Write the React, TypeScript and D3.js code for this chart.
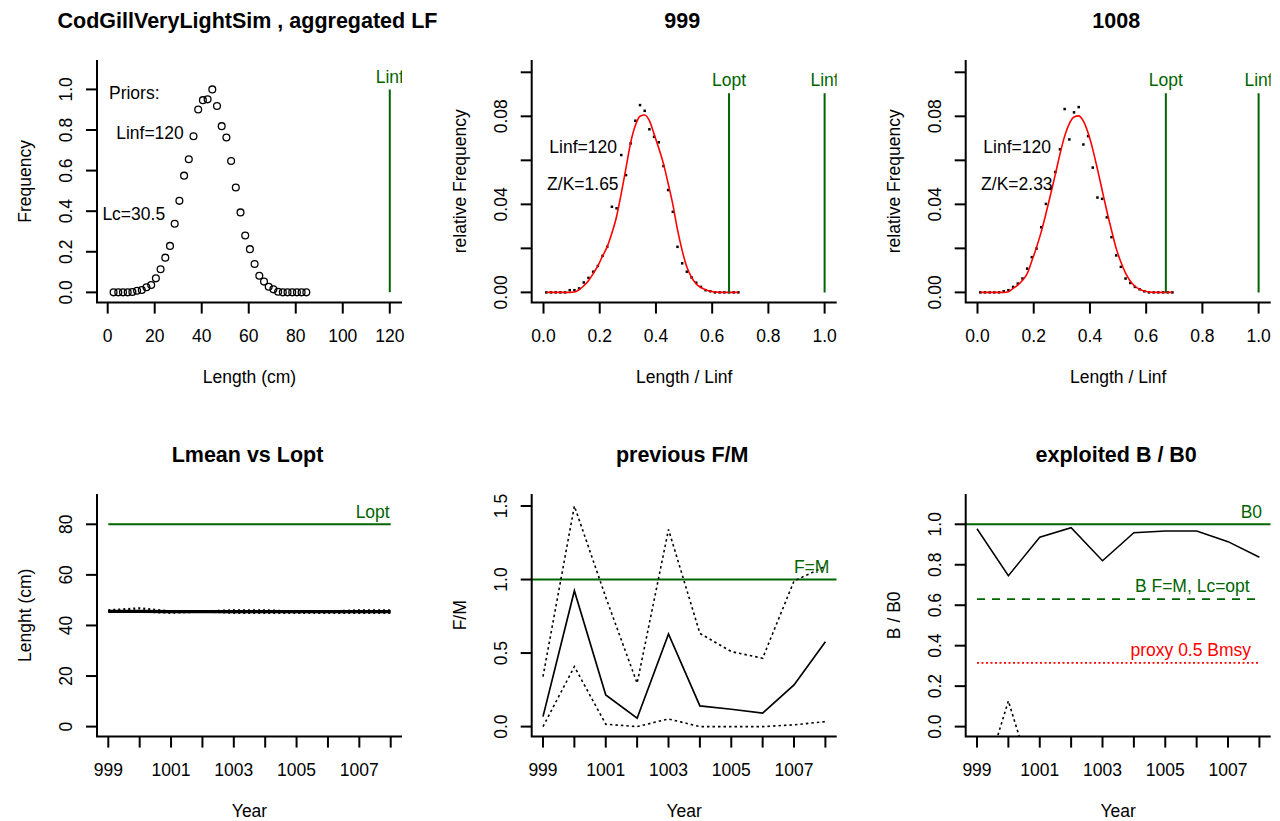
import React from "react";
import * as d3 from "d3";

// ---------------- data ----------------
const Linf = 120;
const lengthClasses = [
  2.5, 4.5, 6.5, 8.5, 10.5, 12.5, 14.5, 16.5, 18.5, 20.5, 22.5, 24.5, 26.5, 28.5,
  30.5, 32.5, 34.5, 36.5, 38.5, 40.5, 42.5, 44.5, 46.5, 48.5, 50.5, 52.5, 54.5, 56.5,
  58.5, 60.5, 62.5, 64.5, 66.5, 68.5, 70.5, 72.5, 74.5, 76.5, 78.5, 80.5, 82.5, 84.5,
];
const aggregatedFreq = [
  0, 0, 0, 0, 0.002, 0.008, 0.012, 0.025, 0.036, 0.069, 0.114, 0.171, 0.229, 0.338,
  0.451, 0.575, 0.656, 0.769, 0.901, 0.947, 0.951, 1.0, 0.918, 0.819, 0.763, 0.647, 0.517, 0.394,
  0.28, 0.213, 0.14, 0.082, 0.053, 0.028, 0.015, 0.003, 0, 0, 0, 0, 0, 0,
];
const freq999 = [
  0, 0, 0, 0, 0, 0.001, 0.001, 0.0018, 0.0045, 0.0066, 0.0094, 0.012, 0.0166, 0.0207,
  0.0389, 0.0382, 0.0624, 0.0533, 0.0677, 0.078, 0.0851, 0.0825, 0.0741, 0.0707, 0.0682, 0.0574, 0.0465, 0.0366,
  0.0207, 0.0132, 0.0094, 0.0068, 0.0044, 0.0025, 0.001, 0.0005, 0, 0, 0, 0, 0, 0,
];
const fit999 = [
  0, 0, 0, 0, 0, 0, 0.0002, 0.0012, 0.003, 0.0053, 0.0085, 0.012, 0.0165, 0.0208,
  0.027, 0.0345, 0.045, 0.0565, 0.068, 0.0758, 0.08, 0.0806, 0.078, 0.072, 0.0655, 0.0585, 0.0495, 0.04,
  0.0285, 0.019, 0.0115, 0.0068, 0.0038, 0.0022, 0.0012, 0.0005, 0.0002, 0, 0, 0, 0, 0,
];
const freq1008 = [
  0, 0, 0, 0, 0, 0.0005, 0.001, 0.0025, 0.004, 0.0063, 0.0108, 0.016, 0.0199, 0.0296,
  0.0402, 0.047, 0.0547, 0.065, 0.0833, 0.0695, 0.0818, 0.0842, 0.0672, 0.071, 0.0567, 0.0431, 0.0425, 0.0341,
  0.0251, 0.0168, 0.0116, 0.0063, 0.0043, 0.0025, 0.0014, 0.0005, 0, 0, 0, 0, 0, 0,
];
const fit1008 = [
  0, 0, 0, 0, 0, 0, 0.0003, 0.0018, 0.0033, 0.0055, 0.0085, 0.0143, 0.0205, 0.0275,
  0.0357, 0.0445, 0.0535, 0.0628, 0.071, 0.0767, 0.0797, 0.0802, 0.0778, 0.0725, 0.065, 0.056, 0.0465, 0.037,
  0.0283, 0.02, 0.0138, 0.0088, 0.0052, 0.0028, 0.0014, 0.0006, 0.0002, 0, 0, 0, 0, 0,
];
const relLopt999 = 0.66;
const relLopt1008 = 0.67;

const years = [999, 1000, 1001, 1002, 1003, 1004, 1005, 1006, 1007, 1008];
const Lopt = 80;
const lmean = [45.6, 45.6, 45.5, 45.5, 45.5, 45.5, 45.5, 45.5, 45.5, 45.5];
const lmeanUpper = [46.0, 46.8, 45.5, 45.5, 46.0, 46.0, 45.5, 45.5, 46.0, 46.0];
const lmeanLower = [45.5, 45.5, 45.0, 45.5, 45.0, 45.0, 45.0, 45.0, 45.0, 45.0];

const fmMedian = [0.068, 0.924, 0.215, 0.057, 0.63, 0.141, 0.118, 0.091, 0.283, 0.577];
const fmUpper = [0.34, 1.5, 0.88, 0.295, 1.34, 0.634, 0.51, 0.465, 0.99, 1.09];
const fmLower = [0.0, 0.408, 0.016, 0.0, 0.052, 0.0, 0.0, 0.0, 0.012, 0.034];

const bb0 = [0.978, 0.746, 0.936, 0.983, 0.82, 0.958, 0.967, 0.967, 0.914, 0.837];
const bb0Lower = [-0.38, 0.127, -0.38, -0.38, -0.38, -0.38, -0.38, -0.38, -0.38, -0.38];
const bFmLcOpt = 0.63;
const proxyHalfBmsy = 0.315;

const lenTicks = [0, 20, 40, 60, 80, 100, 120];
const freqTicks = [0, 0.2, 0.4, 0.6, 0.8, 1.0];
const relTicks = [0, 0.2, 0.4, 0.6, 0.8, 1.0];
const relFreqTicks = [0, 0.02, 0.04, 0.06, 0.08, 0.1];
const relFreqLabels = [0, 0.04, 0.08];
const yearLabels = [999, 1001, 1003, 1005, 1007];
const lenYTicks = [0, 20, 40, 60, 80];
const fmTicks = [0, 0.5, 1.0, 1.5];
const bTicks = [0, 0.2, 0.4, 0.6, 0.8, 1.0];

// ---------------- style ----------------
const FONT = "'Liberation Sans', Arial, Helvetica, sans-serif";
const FS = 17.5;
const TFS = 21.5;
const GREEN = "#006400";
const COLS = [97, 531.7, 965.7];
const ROWS = [60, 494];
const W = 305;
const H = 242.6;

type PanelProps = {
  id: string;
  x0: number;
  y0: number;
  x: d3.ScaleLinear<number, number>;
  y: d3.ScaleLinear<number, number>;
  xTicks: number[];
  xLabels: number[];
  xFmt: (v: number) => string;
  yTicks: number[];
  yLabels: number[];
  yFmt: (v: number) => string;
  title: string;
  xTitle: string;
  yTitle: string;
  children?: React.ReactNode;
};

function Panel(p: PanelProps) {
  const { id, x0, y0, x, y } = p;
  const x1 = x0 + W;
  const y1 = y0 + H;
  const cx = (x0 + x1) / 2;
  const cy = (y0 + y1) / 2;
  return (
    <g>
      <defs>
        <clipPath id={id}>
          <rect x={x0} y={y0} width={W} height={H} />
        </clipPath>
      </defs>
      <g clipPath={`url(#${id})`}>{p.children}</g>
      <path d={`M${x0},${y0}V${y1}H${x1}`} fill="none" stroke="#000" strokeWidth={2} />
      {p.xTicks.map((t) => (
        <line key={"xt" + t} x1={x(t)} x2={x(t)} y1={y1} y2={y1 + 11} stroke="#000" strokeWidth={2} />
      ))}
      {p.xLabels.map((t) => (
        <text key={"xl" + t} x={x(t)} y={y1 + 39.5} textAnchor="middle" fontSize={FS}>
          {p.xFmt(t)}
        </text>
      ))}
      {p.yTicks.map((t) => (
        <line key={"yt" + t} x1={x0 - 11} x2={x0} y1={y(t)} y2={y(t)} stroke="#000" strokeWidth={2} />
      ))}
      {p.yLabels.map((t) => (
        <text
          key={"yl" + t}
          transform={`translate(${x0 - 25},${y(t)}) rotate(-90)`}
          textAnchor="middle"
          fontSize={FS}
        >
          {p.yFmt(t)}
        </text>
      ))}
      <text x={cx - 2} y={y0 - 32} textAnchor="middle" fontSize={TFS} fontWeight="bold">
        {p.title}
      </text>
      <text x={cx} y={y1 + 80} textAnchor="middle" fontSize={FS}>
        {p.xTitle}
      </text>
      <text transform={`translate(${x0 - 66},${cy}) rotate(-90)`} textAnchor="middle" fontSize={FS}>
        {p.yTitle}
      </text>
    </g>
  );
}

function LFPanel(props: {
  id: string;
  col: number;
  title: string;
  freq: number[];
  fit: number[];
  relLopt: number;
  zk: string;
}) {
  const x0 = COLS[props.col];
  const y0 = ROWS[0];
  const x = d3.scaleLinear().domain([-0.042, 1.043]).range([x0, x0 + W]);
  const y = d3.scaleLinear().domain([-0.00464, 0.10559]).range([y0 + H, y0]);
  const rel = lengthClasses.map((L) => (L - 1.3) / Linf);
  const line = d3
    .line<number>()
    .x((_, i) => x(rel[i]))
    .y((d) => y(d))
    .curve(d3.curveMonotoneX);
  const lineTop = 0.0905;
  return (
    <Panel
      id={props.id}
      x0={x0}
      y0={y0}
      x={x}
      y={y}
      xTicks={relTicks}
      xLabels={relTicks}
      xFmt={(v) => v.toFixed(1)}
      yTicks={relFreqTicks}
      yLabels={relFreqLabels}
      yFmt={(v) => v.toFixed(2)}
      title={props.title}
      xTitle="Length / Linf"
      yTitle="relative Frequency"
    >
      {props.freq.map((d, i) => (
        <rect key={i} x={x(rel[i]) - 1.25} y={y(d) - 1.25} width={2.5} height={2.5} fill="#000" />
      ))}
      <path d={line(props.fit) || ""} fill="none" stroke="#ff0000" strokeWidth={1.6} />
      <line x1={x(props.relLopt)} x2={x(props.relLopt)} y1={y(0)} y2={y(lineTop)} stroke={GREEN} strokeWidth={2} />
      <line x1={x(1)} x2={x(1)} y1={y(0)} y2={y(lineTop)} stroke={GREEN} strokeWidth={2} />
      <text x={x(props.relLopt)} y={y(lineTop) - 7.5} textAnchor="middle" fontSize={FS} fill={GREEN}>
        Lopt
      </text>
      <text x={x(1)} y={y(lineTop) - 7.5} textAnchor="middle" fontSize={FS} fill={GREEN}>
        Linf
      </text>
      <text x={x(0.141)} y={y(0.0662)} dy="0.35em" textAnchor="middle" fontSize={FS}>
        {"Linf=" + Linf}
      </text>
      <text x={x(0.14)} y={y(0.0492)} dy="0.35em" textAnchor="middle" fontSize={FS}>
        {props.zk}
      </text>
    </Panel>
  );
}

export default function App() {
  // panel 1
  const p1x = d3.scaleLinear().domain([-4.55, 125.2]).range([COLS[0], COLS[0] + W]);
  const p1y = d3.scaleLinear().domain([-0.0504, 1.1449]).range([ROWS[0] + H, ROWS[0]]);

  // bottom row
  const yx = (c: number) => d3.scaleLinear().domain([998.64, 1008.36]).range([COLS[c], COLS[c] + W]);
  const p4x = yx(0);
  const p4y = d3.scaleLinear().domain([-3.95, 91.98]).range([ROWS[1] + H, ROWS[1]]);
  const p5x = yx(1);
  const p5y = d3.scaleLinear().domain([-0.068, 1.5816]).range([ROWS[1] + H, ROWS[1]]);
  const p6x = yx(2);
  const p6y = d3.scaleLinear().domain([-0.0494, 1.1497]).range([ROWS[1] + H, ROWS[1]]);

  const yl = (xs: d3.ScaleLinear<number, number>, ys: d3.ScaleLinear<number, number>) =>
    d3
      .line<number>()
      .x((_, i) => xs(years[i]))
      .y((d) => ys(d));

  const l4 = yl(p4x, p4y);
  const l5 = yl(p5x, p5y);
  const l6 = yl(p6x, p6y);
  const yearFmt = (v: number) => String(v);

  return (
    <div style={{ position: "absolute", left: 0, top: 0, width: 1280, height: 821, background: "#fff" }}>
      <svg width={1280} height={821} style={{ display: "block", fontFamily: FONT }} fill="#000">
        <rect width={1280} height={821} fill="#fff" />

        {/* Panel 1 */}
        <Panel
          id="c1"
          x0={COLS[0]}
          y0={ROWS[0]}
          x={p1x}
          y={p1y}
          xTicks={lenTicks}
          xLabels={lenTicks}
          xFmt={yearFmt}
          yTicks={freqTicks}
          yLabels={freqTicks}
          yFmt={(v) => v.toFixed(1)}
          title="CodGillVeryLightSim , aggregated LF"
          xTitle="Length (cm)"
          yTitle="Frequency"
        >
          {aggregatedFreq.map((d, i) => (
            <circle key={i} cx={p1x(lengthClasses[i])} cy={p1y(d)} r={3.4} fill="none" stroke="#000" strokeWidth={1.3} />
          ))}
          <line x1={p1x(Linf)} x2={p1x(Linf)} y1={p1y(0)} y2={p1y(1)} stroke={GREEN} strokeWidth={2} />
          <text x={p1x(Linf)} y={p1y(1) - 6.5} textAnchor="middle" fontSize={FS} fill={GREEN}>
            Linf
          </text>
          <text x={p1x(11.3)} y={p1y(0.985)} dy="0.35em" textAnchor="middle" fontSize={FS}>
            Priors:
          </text>
          <text x={p1x(18)} y={p1y(0.786)} dy="0.35em" textAnchor="middle" fontSize={FS}>
            {"Linf=" + Linf}
          </text>
          <text x={p1x(11.1)} y={p1y(0.387)} dy="0.35em" textAnchor="middle" fontSize={FS}>
            Lc=30.5
          </text>
        </Panel>

        <LFPanel id="c2" col={1} title="999" freq={freq999} fit={fit999} relLopt={relLopt999} zk="Z/K=1.65" />
        <LFPanel id="c3" col={2} title="1008" freq={freq1008} fit={fit1008} relLopt={relLopt1008} zk="Z/K=2.33" />

        {/* Panel 4 */}
        <Panel
          id="c4"
          x0={COLS[0]}
          y0={ROWS[1]}
          x={p4x}
          y={p4y}
          xTicks={years}
          xLabels={yearLabels}
          xFmt={yearFmt}
          yTicks={lenYTicks}
          yLabels={lenYTicks}
          yFmt={yearFmt}
          title="Lmean vs Lopt"
          xTitle="Year"
          yTitle="Lenght (cm)"
        >
          <line x1={p4x(999)} x2={p4x(1008)} y1={p4y(Lopt)} y2={p4y(Lopt)} stroke={GREEN} strokeWidth={2} />
          <text x={p4x(1008) - 1} y={p4y(Lopt) - 6} textAnchor="end" fontSize={FS} fill={GREEN}>
            Lopt
          </text>
          <path d={l4(lmean) || ""} fill="none" stroke="#000" strokeWidth={3.2} />
          <path d={l4(lmeanUpper) || ""} fill="none" stroke="#000" strokeWidth={2.2} strokeDasharray="2,3" />
          <path d={l4(lmeanLower) || ""} fill="none" stroke="#000" strokeWidth={2.2} strokeDasharray="2,3" />
        </Panel>

        {/* Panel 5 */}
        <Panel
          id="c5"
          x0={COLS[1]}
          y0={ROWS[1]}
          x={p5x}
          y={p5y}
          xTicks={years}
          xLabels={yearLabels}
          xFmt={yearFmt}
          yTicks={fmTicks}
          yLabels={fmTicks}
          yFmt={(v) => v.toFixed(1)}
          title="previous F/M"
          xTitle="Year"
          yTitle="F/M"
        >
          <line x1={COLS[1]} x2={COLS[1] + W} y1={p5y(1)} y2={p5y(1)} stroke={GREEN} strokeWidth={2} />
          <path d={l5(fmUpper) || ""} fill="none" stroke="#000" strokeWidth={1.6} strokeDasharray="2.5,3" />
          <path d={l5(fmLower) || ""} fill="none" stroke="#000" strokeWidth={1.6} strokeDasharray="2.5,3" />
          <path d={l5(fmMedian) || ""} fill="none" stroke="#000" strokeWidth={1.7} />
          <text x={p5x(1008) + 4} y={p5y(1) - 7} textAnchor="end" fontSize={FS} fill={GREEN}>
            F=M
          </text>
        </Panel>

        {/* Panel 6 */}
        <Panel
          id="c6"
          x0={COLS[2]}
          y0={ROWS[1]}
          x={p6x}
          y={p6y}
          xTicks={years}
          xLabels={yearLabels}
          xFmt={yearFmt}
          yTicks={bTicks}
          yLabels={bTicks}
          yFmt={(v) => v.toFixed(1)}
          title="exploited B / B0"
          xTitle="Year"
          yTitle="B / B0"
        >
          <line x1={COLS[2]} x2={COLS[2] + W} y1={p6y(1)} y2={p6y(1)} stroke={GREEN} strokeWidth={2} />
          <text x={p6x(1008) + 2.7} y={p6y(1) - 6} textAnchor="end" fontSize={FS} fill={GREEN}>
            B0
          </text>
          <line
            x1={p6x(999)}
            x2={p6x(1008)}
            y1={p6y(bFmLcOpt)}
            y2={p6y(bFmLcOpt)}
            stroke={GREEN}
            strokeWidth={1.8}
            strokeDasharray="8,7"
          />
          <text x={p6x(1008) - 9.7} y={p6y(bFmLcOpt) - 7.5} textAnchor="end" fontSize={FS} fill={GREEN}>
            B F=M, Lc=opt
          </text>
          <line
            x1={p6x(999)}
            x2={p6x(1008)}
            y1={p6y(proxyHalfBmsy)}
            y2={p6y(proxyHalfBmsy)}
            stroke="#ff0000"
            strokeWidth={1.6}
            strokeDasharray="2,2.5"
          />
          <text x={p6x(1008) - 8.3} y={p6y(proxyHalfBmsy) - 6.5} textAnchor="end" fontSize={FS} fill="#ff0000">
            proxy 0.5 Bmsy
          </text>
          <path d={l6(bb0) || ""} fill="none" stroke="#000" strokeWidth={1.5} />
          <path d={l6(bb0Lower) || ""} fill="none" stroke="#000" strokeWidth={1.6} strokeDasharray="2.5,3" />
        </Panel>
      </svg>
    </div>
  );
}
